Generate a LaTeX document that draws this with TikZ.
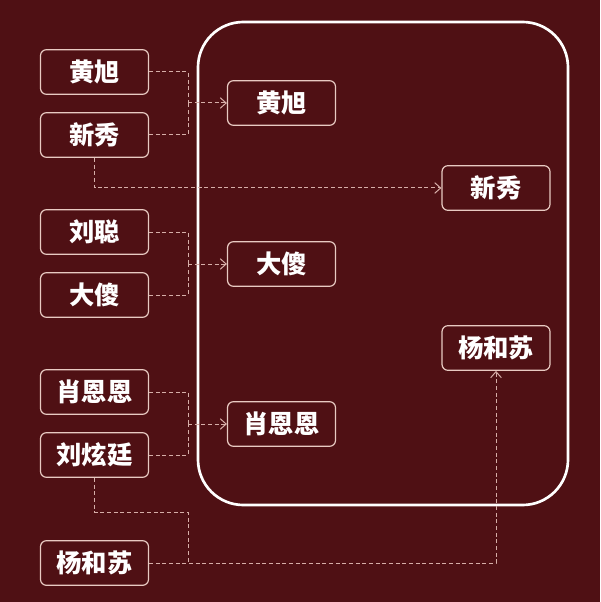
\documentclass[tikz,border=0pt]{standalone}
\usepackage{fontspec}
\newfontfamily\cjk{Noto Sans CJK SC}
\usetikzlibrary{arrows,arrows.meta}
\definecolor{bgred}{HTML}{4F1014}
\definecolor{edgepink}{HTML}{E8CAC2}
\definecolor{dashpink}{HTML}{D6AEA8}
\begin{document}
\begin{tikzpicture}[x=0.75pt,y=-0.75pt,
  namebox/.style={draw=edgepink,line width=0.9pt,rounded corners=4.5pt,
    minimum width=81pt,minimum height=33.5pt,inner sep=0pt,text=white,
    font=\cjk\bfseries\fontsize{19}{21}\selectfont},
  link/.style={draw=dashpink,line width=0.75pt,dash pattern=on 3pt off 2pt},
  >={Straight Barb[length=4.5pt,width=8pt]}]
\fill [bgred] (0,0) rectangle (600,602);
\useasboundingbox (0,0) rectangle (600,602);
% the group
\draw [white,line width=2pt,rounded corners=34pt] (198,22) rectangle (568,505);
% left column
\node [namebox] (hxL)  at (94.5,72)  {黄旭};
\node [namebox] (xxL)  at (94.5,135) {新秀};
\node [namebox] (lcL)  at (94.5,232) {刘聪};
\node [namebox] (dsL)  at (94.5,295) {大傻};
\node [namebox] (xeL)  at (94.5,392) {肖恩恩};
\node [namebox] (lxL)  at (94.5,455) {刘炫廷};
\node [namebox] (yhL)  at (94.5,563) {杨和苏};
% inside
\node [namebox] (hxR)  at (281.5,103) {黄旭};
\node [namebox] (dsR)  at (281.5,264) {大傻};
\node [namebox] (xeR)  at (281.5,424) {肖恩恩};
\node [namebox] (xxR)  at (496,188)  {新秀};
\node [namebox] (yhR)  at (496,348)  {杨和苏};
% joins
\coordinate (j1) at (188,103);
\coordinate (j2) at (188,264);
\coordinate (j3) at (188,424);
\coordinate (k1) at (188,512);
\draw [link] (hxL.east) -| (j1);
\draw [link] (xxL.east) -| (j1);
\draw [link,->] (j1) -- (hxR.west);
\draw [link,->] (xxL.south) |- (xxR.west);
\draw [link] (lcL.east) -| (j2);
\draw [link] (dsL.east) -| (j2);
\draw [link,->] (j2) -- (dsR.west);
\draw [link] (xeL.east) -| (j3);
\draw [link] (lxL.east) -| (j3);
\draw [link,->] (j3) -- (xeR.west);
\draw [link] (lxL.south) |- (k1) -- (k1 |- yhL.east);
\draw [link,->] (yhL.east) -| (yhR.south);
\end{tikzpicture}
\end{document}
